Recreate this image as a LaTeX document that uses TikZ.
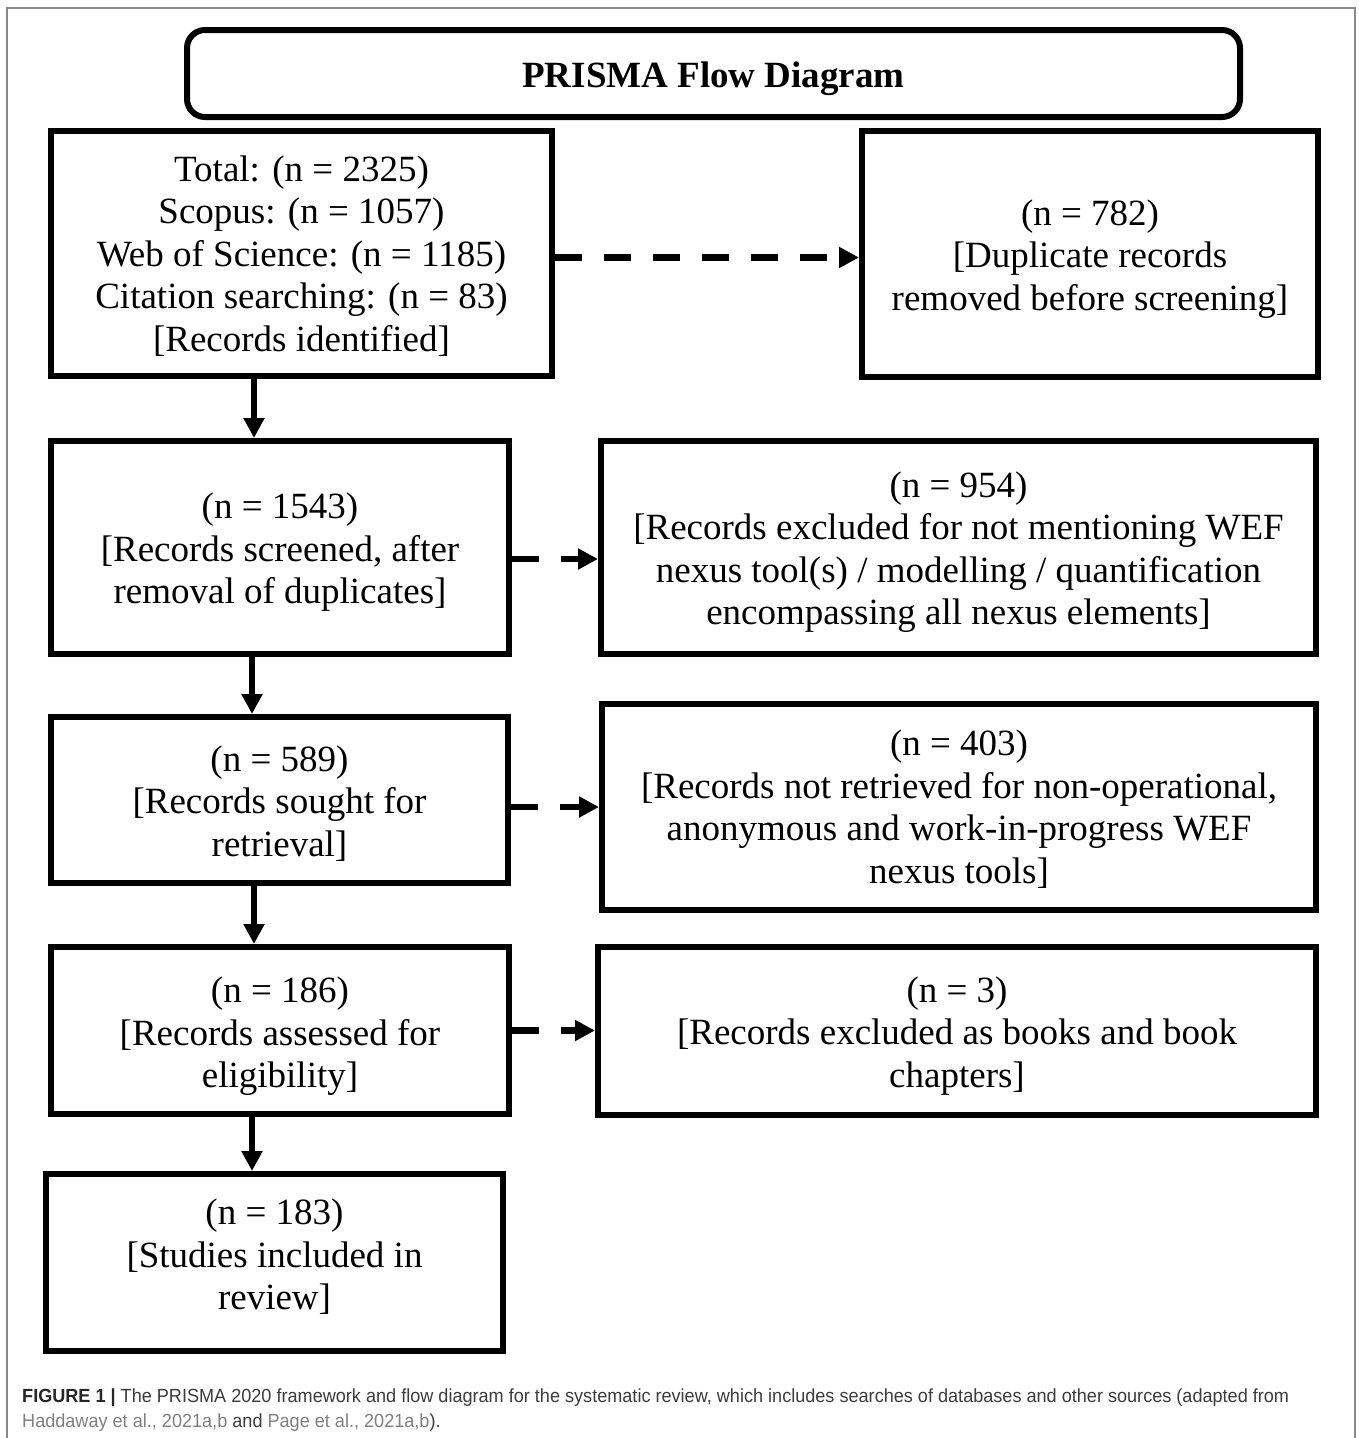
\documentclass[tikz,border=0pt]{standalone}
\usepackage{fontspec}
\usepackage{graphicx}
\setmainfont{Liberation Serif}
\newfontfamily\capfont{Liberation Sans}
\usetikzlibrary{arrows.meta,calc}
\definecolor{capgray}{HTML}{3C3C3C}
\definecolor{linkgray}{HTML}{808080}
\definecolor{framegray}{HTML}{8A8A8A}
% box text: lines centred, shifted vertically by #1 without changing the box size
\newcommand\boxtext[2]{\raisebox{#1}[\height][\depth]{\begin{tabular}{@{}c@{}}#2\end{tabular}}}
\tikzset{
  box/.style={draw=black, line width=6pt, rectangle, inner sep=0pt,
    font=\fontsize{37}{42.5}\selectfont},
  titlebox/.style={box, rounded corners=18pt, font=\fontsize{37}{42.5}\selectfont\bfseries},
  arr/.style={line width=6.5pt, -{Triangle[length=20pt,width=20pt]}},
  darr/.style={arr, dash pattern=on 27pt off 22pt}
}
\begin{document}
\begin{tikzpicture}[x=1pt,y=-1pt]
\useasboundingbox (0,0) rectangle (1358,1438);
\fill[white] (0,0) rectangle (1358,1438);
\draw[framegray, line width=1.5pt] (7,1440) -- (7,8) -- (1355,8) -- (1355,1440);

\node[titlebox, minimum width=1053pt, minimum height=87pt] (title) at (713.5,73.5) {\boxtext{-5pt}{PRISMA Flow Diagram}};

\node[box, minimum width=501pt, minimum height=245pt] (b1) at (301.5,253.5)
  {\boxtext{-4pt}{Total: (n = 2325)\\Scopus: (n = 1057)\\Web of Science: (n = 1185)\\Citation searching: (n = 83)\\{}[Records identified]}};
\node[box, minimum width=456pt, minimum height=246pt] (dup) at (1090,254)
  {\boxtext{-5pt}{(n = 782)\\{}[Duplicate records\\removed before screening]}};

\node[box, minimum width=458pt, minimum height=213pt] (b2) at (280,547.5)
  {\boxtext{-5pt}{(n = 1543)\\{}[Records screened, after\\removal of duplicates]}};
\node[box, minimum width=715pt, minimum height=213pt] (e1) at (958.5,547.5)
  {\boxtext{-5pt}{(n = 954)\\{}[Records excluded for not mentioning WEF\\nexus tool(s) / modelling / quantification\\encompassing all nexus elements]}};

\node[box, minimum width=457pt, minimum height=166pt] (b3) at (279.5,800)
  {\boxtext{-5pt}{(n = 589)\\{}[Records sought for\\retrieval]}};
\node[box, minimum width=714pt, minimum height=206pt] (e2) at (959,807)
  {\boxtext{-4pt}{(n = 403)\\{}[Records not retrieved for non-operational,\\anonymous and work-in-progress WEF\\nexus tools]}};

\node[box, minimum width=458pt, minimum height=167pt] (b4) at (280,1030.5)
  {\boxtext{-6pt}{(n = 186)\\{}[Records assessed for\\eligibility]}};
\node[box, minimum width=718pt, minimum height=168pt] (e3) at (957,1031)
  {\boxtext{-5pt}{(n = 3)\\{}[Records excluded as books and book\\chapters]}};

\node[box, minimum width=457pt, minimum height=177pt] (b5) at (274.5,1262.5)
  {\boxtext{4pt}{(n = 183)\\{}[Studies included in\\review]}};

% horizontal (dashed) connectors
\draw[darr] ([yshift=-4pt]b1.east) -- ([yshift=-4pt]b1.east -| dup.west);
\draw[darr] ([yshift=-11.5pt]b2.east) -- ([yshift=-11.5pt]b2.east -| e1.west);
\draw[darr] ([yshift=-7pt]b3.east) -- ([yshift=-7pt]b3.east -| e2.west);
\draw[darr] (b4.east) -- (b4.east -| e3.west);

% vertical connectors
\draw[arr] ([xshift=206pt]b1.south west) -- ([xshift=206pt]b1.south west |- b2.north);
\draw[arr] ([xshift=204pt]b2.south west) -- ([xshift=204pt]b2.south west |- b3.north);
\draw[arr] ([xshift=206pt]b3.south west) -- ([xshift=206pt]b3.south west |- b4.north);
\draw[arr] ([xshift=204pt]b4.south west) -- ([xshift=204pt]b4.south west |- b5.north);

% caption
\node[anchor=north west, inner sep=0pt] (cap) at (22,1385)
  {\resizebox{1267pt}{\height}{\capfont\fontsize{19}{25}\selectfont\color{capgray}%
   \begin{tabular}{@{}l@{}}
   {\bfseries\color{black!85}FIGURE 1 |} The PRISMA 2020 framework and flow diagram for the systematic review, which includes searches of databases and other sources (adapted from\\
   {\color{linkgray}Haddaway et al., 2021a,b} and {\color{linkgray}Page et al., 2021a,b}).
   \end{tabular}}};
\end{tikzpicture}
\end{document}
